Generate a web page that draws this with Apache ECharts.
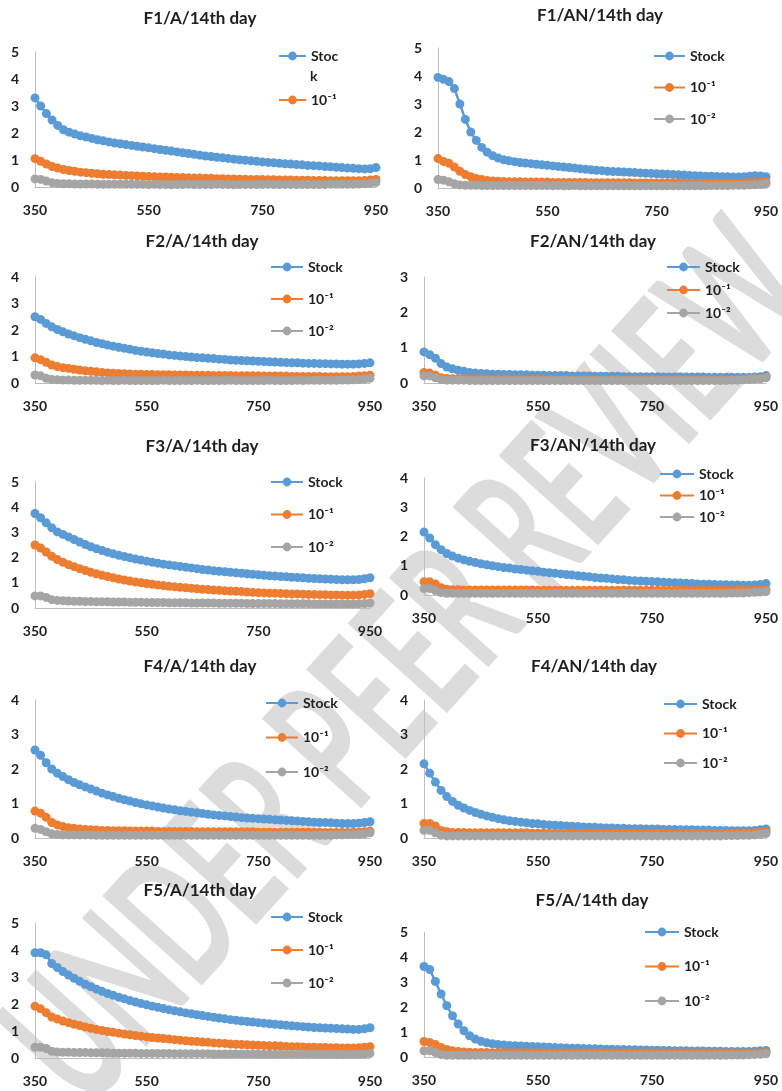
<!DOCTYPE html>
<html>
<head>
<meta charset="utf-8">
<script src="https://cdn.jsdelivr.net/npm/echarts@6/dist/echarts.min.js"></script>
<style>
html,body{margin:0;padding:0;background:#fff;}
#c{width:782px;height:1091px;}
</style>
</head>
<body>
<div id="c"></div>
<script>
const wavelengths = [350,360,370,380,390,400,410,420,430,440,450,460,470,480,490,500,510,520,530,540,550,560,570,580,590,600,610,620,630,640,650,660,670,680,690,700,710,720,730,740,750,760,770,780,790,800,810,820,830,840,850,860,870,880,890,900,910,920,930,940,950];
const xTickLabels = ['350','550','750','950'];
const seriesNames = ['Stock','10⁻¹','10⁻²'];
const panelTitles = ['F1/A/14th day','F1/AN/14th day','F2/A/14th day','F2/AN/14th day','F3/A/14th day','F3/AN/14th day','F4/A/14th day','F4/AN/14th day','F5/A/14th day','F5/A/14th day'];
const yMax = [5,5,4,3,5,4,4,4,5,5];

// F1 / A
const f1aStock = [3.30,3.00,2.72,2.48,2.28,2.12,2.03,1.96,1.90,1.85,1.80,1.75,1.71,1.67,1.63,1.60,1.57,1.54,1.51,1.48,1.45,1.42,1.39,1.36,1.33,1.30,1.27,1.24,1.21,1.18,1.15,1.13,1.10,1.08,1.06,1.03,1.01,0.99,0.97,0.95,0.93,0.91,0.90,0.88,0.86,0.85,0.83,0.82,0.80,0.79,0.78,0.76,0.75,0.73,0.72,0.70,0.69,0.68,0.67,0.68,0.72];
const f1a10m1 = [1.05,0.95,0.85,0.76,0.70,0.65,0.61,0.58,0.55,0.53,0.51,0.49,0.47,0.46,0.45,0.44,0.43,0.42,0.41,0.40,0.39,0.38,0.37,0.37,0.36,0.35,0.35,0.34,0.33,0.33,0.32,0.32,0.31,0.31,0.30,0.30,0.29,0.29,0.28,0.28,0.28,0.27,0.27,0.26,0.26,0.26,0.25,0.25,0.25,0.24,0.24,0.24,0.23,0.23,0.23,0.23,0.23,0.23,0.24,0.26,0.28];
const f1a10m2 = [0.30,0.28,0.22,0.16,0.13,0.12,0.12,0.11,0.11,0.11,0.11,0.10,0.10,0.10,0.10,0.10,0.10,0.10,0.10,0.10,0.09,0.10,0.09,0.09,0.08,0.09,0.09,0.10,0.09,0.09,0.09,0.09,0.10,0.09,0.09,0.08,0.09,0.09,0.09,0.09,0.09,0.10,0.09,0.09,0.09,0.09,0.09,0.09,0.09,0.09,0.09,0.09,0.10,0.10,0.10,0.10,0.10,0.11,0.12,0.14,0.17];
// F1 / AN
const f1anStock = [3.95,3.88,3.80,3.55,3.00,2.45,2.00,1.70,1.45,1.28,1.15,1.07,1.01,0.97,0.94,0.91,0.89,0.87,0.85,0.83,0.81,0.79,0.77,0.75,0.73,0.71,0.69,0.67,0.65,0.63,0.62,0.60,0.59,0.58,0.57,0.56,0.55,0.54,0.53,0.52,0.51,0.50,0.49,0.48,0.47,0.46,0.45,0.44,0.43,0.42,0.42,0.41,0.40,0.40,0.39,0.39,0.40,0.42,0.44,0.43,0.40];
const f1an10m1 = [1.05,0.95,0.88,0.75,0.60,0.48,0.40,0.34,0.30,0.27,0.25,0.24,0.23,0.22,0.22,0.22,0.21,0.21,0.21,0.21,0.21,0.20,0.20,0.20,0.20,0.20,0.20,0.20,0.19,0.19,0.19,0.19,0.19,0.19,0.19,0.19,0.18,0.18,0.18,0.18,0.18,0.18,0.18,0.18,0.18,0.18,0.17,0.17,0.17,0.17,0.17,0.17,0.17,0.17,0.17,0.17,0.18,0.19,0.20,0.21,0.22];
const f1an10m2 = [0.30,0.28,0.22,0.15,0.11,0.10,0.10,0.10,0.09,0.09,0.09,0.09,0.09,0.09,0.09,0.09,0.09,0.09,0.09,0.09,0.09,0.08,0.09,0.08,0.08,0.09,0.08,0.08,0.08,0.08,0.08,0.08,0.08,0.08,0.08,0.08,0.08,0.08,0.08,0.08,0.08,0.08,0.08,0.08,0.08,0.08,0.08,0.08,0.08,0.08,0.09,0.09,0.09,0.09,0.10,0.10,0.10,0.11,0.12,0.13,0.15];
// F2 / A
const f2aStock = [2.50,2.40,2.25,2.12,2.02,1.93,1.85,1.78,1.71,1.65,1.59,1.53,1.48,1.43,1.39,1.35,1.31,1.27,1.23,1.20,1.17,1.14,1.11,1.09,1.06,1.04,1.02,1.00,0.98,0.96,0.95,0.93,0.92,0.90,0.89,0.87,0.86,0.85,0.84,0.83,0.82,0.81,0.80,0.79,0.78,0.77,0.76,0.76,0.75,0.74,0.74,0.73,0.73,0.72,0.72,0.71,0.71,0.71,0.72,0.74,0.76];
const f2a10m1 = [0.95,0.88,0.78,0.68,0.62,0.58,0.55,0.52,0.49,0.46,0.44,0.42,0.40,0.38,0.37,0.36,0.35,0.34,0.33,0.33,0.32,0.32,0.31,0.31,0.31,0.30,0.30,0.30,0.29,0.29,0.29,0.29,0.28,0.28,0.28,0.28,0.27,0.27,0.27,0.27,0.27,0.26,0.26,0.26,0.26,0.26,0.25,0.25,0.25,0.25,0.25,0.25,0.24,0.24,0.24,0.24,0.24,0.25,0.26,0.27,0.29];
const f2a10m2 = [0.30,0.27,0.18,0.13,0.12,0.11,0.11,0.10,0.10,0.10,0.10,0.10,0.09,0.10,0.09,0.09,0.10,0.09,0.09,0.09,0.09,0.09,0.09,0.10,0.09,0.09,0.09,0.09,0.09,0.10,0.09,0.09,0.09,0.09,0.09,0.10,0.09,0.09,0.09,0.09,0.09,0.09,0.10,0.09,0.09,0.09,0.09,0.10,0.09,0.10,0.10,0.10,0.10,0.10,0.10,0.11,0.11,0.12,0.13,0.15,0.18];
// F2 / AN
const f2anStock = [0.88,0.80,0.70,0.55,0.45,0.40,0.36,0.33,0.30,0.28,0.27,0.26,0.25,0.25,0.24,0.24,0.23,0.23,0.23,0.22,0.22,0.22,0.21,0.21,0.21,0.21,0.20,0.20,0.20,0.20,0.19,0.19,0.19,0.19,0.19,0.18,0.18,0.18,0.18,0.18,0.18,0.18,0.17,0.17,0.17,0.17,0.17,0.17,0.17,0.17,0.16,0.16,0.16,0.16,0.16,0.16,0.16,0.16,0.17,0.18,0.21];
const f2an10m1 = [0.30,0.28,0.22,0.15,0.13,0.12,0.12,0.12,0.12,0.11,0.11,0.11,0.11,0.11,0.11,0.11,0.11,0.11,0.11,0.11,0.11,0.11,0.11,0.10,0.10,0.10,0.10,0.10,0.10,0.10,0.10,0.10,0.10,0.10,0.10,0.10,0.10,0.10,0.10,0.10,0.10,0.10,0.10,0.10,0.10,0.10,0.10,0.10,0.10,0.10,0.10,0.10,0.10,0.10,0.10,0.10,0.11,0.11,0.12,0.13,0.16];
const f2an10m2 = [0.20,0.20,0.15,0.10,0.08,0.08,0.08,0.08,0.07,0.07,0.07,0.07,0.07,0.07,0.07,0.07,0.07,0.07,0.07,0.07,0.07,0.07,0.07,0.07,0.07,0.07,0.07,0.07,0.07,0.07,0.07,0.07,0.07,0.07,0.07,0.07,0.07,0.07,0.07,0.07,0.07,0.07,0.07,0.07,0.07,0.07,0.07,0.07,0.07,0.07,0.07,0.07,0.07,0.07,0.08,0.08,0.09,0.10,0.11,0.12,0.15];
// F3 / A
const f3aStock = [3.75,3.58,3.38,3.18,3.02,2.92,2.82,2.72,2.62,2.52,2.43,2.35,2.28,2.21,2.15,2.09,2.04,1.99,1.94,1.90,1.86,1.82,1.78,1.74,1.71,1.68,1.65,1.62,1.59,1.56,1.53,1.51,1.48,1.46,1.44,1.42,1.40,1.38,1.36,1.34,1.32,1.30,1.28,1.27,1.25,1.24,1.22,1.21,1.20,1.18,1.17,1.16,1.15,1.14,1.13,1.12,1.12,1.12,1.13,1.16,1.20];
const f3a10m1 = [2.50,2.38,2.22,2.05,1.92,1.82,1.72,1.64,1.56,1.49,1.42,1.36,1.30,1.25,1.20,1.15,1.11,1.07,1.03,1.00,0.97,0.94,0.91,0.89,0.86,0.84,0.82,0.80,0.78,0.76,0.74,0.73,0.71,0.70,0.68,0.67,0.66,0.65,0.63,0.62,0.61,0.60,0.59,0.59,0.58,0.57,0.56,0.56,0.55,0.54,0.54,0.53,0.53,0.52,0.52,0.51,0.51,0.51,0.52,0.54,0.57];
const f3a10m2 = [0.48,0.48,0.42,0.33,0.30,0.29,0.28,0.27,0.27,0.26,0.26,0.25,0.25,0.25,0.24,0.24,0.24,0.23,0.23,0.23,0.22,0.22,0.22,0.22,0.21,0.21,0.21,0.21,0.20,0.20,0.20,0.20,0.20,0.19,0.19,0.19,0.19,0.19,0.18,0.18,0.18,0.18,0.18,0.18,0.17,0.17,0.17,0.17,0.17,0.17,0.16,0.16,0.16,0.16,0.16,0.16,0.16,0.16,0.17,0.18,0.20];
// F3 / AN
const f3anStock = [2.15,1.95,1.72,1.55,1.42,1.33,1.26,1.20,1.15,1.11,1.07,1.03,1.00,0.97,0.94,0.92,0.89,0.87,0.85,0.83,0.81,0.78,0.76,0.74,0.72,0.70,0.68,0.66,0.64,0.62,0.60,0.58,0.57,0.55,0.53,0.52,0.50,0.49,0.48,0.47,0.46,0.45,0.44,0.43,0.42,0.41,0.40,0.39,0.38,0.37,0.37,0.36,0.35,0.35,0.34,0.34,0.33,0.33,0.34,0.36,0.39];
const f3an10m1 = [0.45,0.45,0.38,0.25,0.20,0.18,0.18,0.17,0.17,0.17,0.17,0.17,0.17,0.17,0.17,0.17,0.17,0.17,0.17,0.17,0.16,0.16,0.16,0.16,0.16,0.16,0.16,0.16,0.16,0.16,0.16,0.16,0.16,0.16,0.16,0.16,0.16,0.16,0.16,0.16,0.16,0.16,0.16,0.16,0.16,0.16,0.16,0.16,0.16,0.16,0.16,0.16,0.16,0.16,0.16,0.16,0.16,0.16,0.16,0.17,0.18];
const f3an10m2 = [0.22,0.22,0.15,0.08,0.06,0.06,0.06,0.06,0.06,0.06,0.06,0.06,0.06,0.06,0.06,0.06,0.06,0.06,0.06,0.06,0.06,0.06,0.06,0.06,0.06,0.06,0.06,0.06,0.06,0.06,0.06,0.06,0.06,0.06,0.06,0.06,0.06,0.06,0.06,0.06,0.06,0.06,0.06,0.06,0.06,0.06,0.06,0.06,0.06,0.06,0.06,0.06,0.06,0.06,0.07,0.07,0.07,0.08,0.09,0.10,0.12];
// F4 / A
const f4aStock = [2.55,2.40,2.18,2.00,1.88,1.78,1.69,1.61,1.54,1.48,1.42,1.36,1.30,1.25,1.20,1.15,1.11,1.07,1.03,0.99,0.96,0.93,0.90,0.87,0.84,0.82,0.79,0.77,0.75,0.73,0.71,0.69,0.67,0.65,0.64,0.62,0.61,0.59,0.58,0.57,0.56,0.55,0.54,0.53,0.52,0.51,0.50,0.49,0.48,0.47,0.46,0.45,0.45,0.44,0.43,0.42,0.42,0.42,0.43,0.45,0.47];
const f4a10m1 = [0.78,0.72,0.60,0.45,0.38,0.33,0.30,0.28,0.26,0.25,0.24,0.23,0.22,0.22,0.21,0.21,0.21,0.20,0.20,0.20,0.20,0.20,0.19,0.19,0.19,0.19,0.19,0.19,0.19,0.18,0.18,0.18,0.18,0.18,0.18,0.18,0.18,0.18,0.18,0.18,0.17,0.17,0.17,0.17,0.17,0.17,0.17,0.17,0.17,0.17,0.16,0.16,0.16,0.16,0.16,0.16,0.16,0.17,0.17,0.18,0.20];
const f4a10m2 = [0.28,0.25,0.18,0.12,0.10,0.09,0.09,0.09,0.09,0.09,0.09,0.08,0.08,0.08,0.08,0.08,0.08,0.08,0.08,0.08,0.08,0.08,0.08,0.08,0.08,0.08,0.08,0.08,0.08,0.08,0.08,0.08,0.08,0.08,0.08,0.08,0.08,0.08,0.08,0.08,0.08,0.08,0.08,0.08,0.08,0.08,0.08,0.08,0.08,0.08,0.08,0.08,0.08,0.08,0.09,0.09,0.10,0.10,0.11,0.12,0.15];
// F4 / AN
const f4anStock = [2.15,1.88,1.62,1.38,1.20,1.06,0.95,0.87,0.80,0.74,0.69,0.64,0.60,0.56,0.53,0.50,0.48,0.46,0.44,0.42,0.41,0.39,0.38,0.37,0.36,0.35,0.34,0.33,0.32,0.31,0.31,0.30,0.29,0.29,0.28,0.28,0.27,0.27,0.27,0.26,0.26,0.26,0.25,0.25,0.25,0.24,0.24,0.24,0.23,0.23,0.23,0.22,0.22,0.22,0.21,0.21,0.21,0.21,0.22,0.24,0.26];
const f4an10m1 = [0.42,0.42,0.35,0.22,0.18,0.16,0.16,0.16,0.15,0.15,0.15,0.15,0.15,0.15,0.15,0.15,0.15,0.15,0.15,0.14,0.14,0.14,0.14,0.14,0.14,0.14,0.14,0.14,0.14,0.14,0.14,0.14,0.14,0.14,0.14,0.14,0.14,0.14,0.14,0.14,0.14,0.14,0.14,0.14,0.14,0.14,0.14,0.14,0.14,0.14,0.14,0.14,0.14,0.14,0.14,0.14,0.14,0.15,0.15,0.16,0.18];
const f4an10m2 = [0.22,0.22,0.15,0.08,0.06,0.06,0.06,0.06,0.06,0.06,0.06,0.06,0.06,0.06,0.06,0.06,0.06,0.06,0.06,0.06,0.06,0.06,0.06,0.06,0.06,0.06,0.06,0.06,0.06,0.06,0.06,0.06,0.06,0.06,0.06,0.06,0.06,0.06,0.06,0.06,0.06,0.06,0.06,0.06,0.06,0.06,0.06,0.06,0.06,0.06,0.06,0.06,0.06,0.07,0.07,0.07,0.08,0.08,0.09,0.11,0.13];
// F5 / A (left)
const f5aStock = [3.90,3.90,3.82,3.50,3.35,3.20,3.07,2.95,2.84,2.73,2.64,2.55,2.47,2.39,2.32,2.25,2.19,2.13,2.07,2.02,1.97,1.92,1.88,1.83,1.79,1.75,1.71,1.67,1.64,1.60,1.57,1.54,1.51,1.48,1.45,1.42,1.40,1.37,1.35,1.33,1.31,1.29,1.27,1.25,1.23,1.21,1.19,1.18,1.16,1.15,1.13,1.12,1.11,1.10,1.09,1.08,1.07,1.06,1.06,1.08,1.12];
const f5a10m1 = [1.92,1.82,1.68,1.52,1.44,1.37,1.31,1.25,1.20,1.15,1.10,1.06,1.02,0.98,0.95,0.92,0.89,0.86,0.83,0.81,0.78,0.76,0.74,0.72,0.70,0.68,0.66,0.64,0.62,0.61,0.59,0.58,0.56,0.55,0.54,0.52,0.51,0.50,0.49,0.48,0.47,0.46,0.45,0.45,0.44,0.43,0.42,0.42,0.41,0.40,0.40,0.39,0.39,0.38,0.38,0.37,0.37,0.37,0.38,0.40,0.42];
const f5a10m2 = [0.40,0.40,0.35,0.25,0.22,0.21,0.21,0.20,0.20,0.20,0.19,0.19,0.19,0.19,0.18,0.18,0.18,0.18,0.18,0.17,0.17,0.17,0.17,0.17,0.17,0.16,0.16,0.16,0.16,0.16,0.16,0.16,0.15,0.15,0.15,0.15,0.15,0.15,0.15,0.15,0.15,0.14,0.14,0.14,0.14,0.14,0.14,0.14,0.14,0.14,0.14,0.14,0.13,0.13,0.13,0.13,0.13,0.13,0.14,0.15,0.17];
// F5 / A (right)
const f5bStock = [3.62,3.50,3.02,2.52,2.05,1.65,1.32,1.05,0.85,0.72,0.63,0.57,0.53,0.50,0.48,0.46,0.45,0.44,0.43,0.42,0.41,0.40,0.39,0.38,0.37,0.36,0.35,0.35,0.34,0.33,0.33,0.32,0.31,0.31,0.30,0.30,0.29,0.29,0.28,0.28,0.27,0.27,0.26,0.26,0.25,0.25,0.25,0.24,0.24,0.24,0.23,0.23,0.23,0.22,0.22,0.22,0.22,0.22,0.23,0.25,0.26];
const f5b10m1 = [0.62,0.58,0.50,0.38,0.30,0.25,0.22,0.20,0.19,0.18,0.18,0.18,0.17,0.17,0.17,0.17,0.17,0.17,0.17,0.17,0.17,0.16,0.16,0.16,0.16,0.16,0.16,0.16,0.16,0.16,0.16,0.16,0.16,0.16,0.16,0.16,0.16,0.16,0.16,0.16,0.16,0.16,0.16,0.16,0.16,0.16,0.16,0.16,0.16,0.16,0.16,0.16,0.16,0.16,0.16,0.16,0.16,0.16,0.16,0.17,0.18];
const f5b10m2 = [0.25,0.25,0.18,0.10,0.07,0.07,0.07,0.07,0.07,0.07,0.07,0.07,0.07,0.07,0.07,0.07,0.07,0.07,0.07,0.07,0.07,0.07,0.07,0.07,0.07,0.07,0.07,0.07,0.07,0.07,0.07,0.07,0.07,0.07,0.07,0.07,0.07,0.07,0.07,0.07,0.07,0.07,0.07,0.07,0.07,0.07,0.07,0.07,0.07,0.07,0.07,0.07,0.07,0.07,0.08,0.08,0.08,0.09,0.10,0.11,0.13];

const panelData = [
  [f1aStock,f1a10m1,f1a10m2],[f1anStock,f1an10m1,f1an10m2],
  [f2aStock,f2a10m1,f2a10m2],[f2anStock,f2an10m1,f2an10m2],
  [f3aStock,f3a10m1,f3a10m2],[f3anStock,f3an10m1,f3an10m2],
  [f4aStock,f4a10m1,f4a10m2],[f4anStock,f4an10m1,f4an10m2],
  [f5aStock,f5a10m1,f5a10m2],[f5bStock,f5b10m1,f5b10m2]
];

// layout (pixels)
const layout = [
  {gx:35, gw:341, gy:52,  gh:135, tx:200, ty:20,  lx:278, ly:56,  lsp:44,  lw:27, names:['Stock','10⁻¹']},
  {gx:438,gw:328, gy:48,  gh:140, tx:600, ty:17,  lx:653, ly:56,  lsp:31.5,lw:31},
  {gx:35, gw:335, gy:277, gh:106, tx:202, ty:243, lx:270, ly:267, lsp:32,  lw:32},
  {gx:424,gw:342, gy:277, gh:106, tx:593, ty:243, lx:666, ly:267, lsp:23,  lw:33},
  {gx:35, gw:335, gy:482, gh:126, tx:202, ty:448, lx:270, ly:482, lsp:32.5,lw:32},
  {gx:424,gw:342, gy:478, gh:117, tx:593, ty:447, lx:659, ly:474, lsp:21.5,lw:34},
  {gx:35, gw:335, gy:700, gh:138, tx:200, ty:668, lx:265, ly:703, lsp:34.5,lw:32},
  {gx:424,gw:342, gy:700, gh:138, tx:594, ty:668, lx:663, ly:704, lsp:29.5,lw:33},
  {gx:35, gw:335, gy:923, gh:135, tx:200, ty:892, lx:270, ly:917, lsp:33,  lw:32},
  {gx:424,gw:342, gy:932, gh:125, tx:592, ty:902, lx:644, ly:932, lsp:34.5,lw:34}
];

const colors = ['#5B9BD5','#ED7D31','#A5A5A5'];
const FONT = 'Lato, "Open Sans", sans-serif';
const TXT = '#1f1f1f';
const ITEM_H = 16;

const grids=[], xAxes=[], yAxes=[], series=[], legends=[], titles=[];
layout.forEach((L,i)=>{
  grids.push({left:L.gx, top:L.gy, width:L.gw, height:L.gh, containLabel:false});
  xAxes.push({type:'category', gridIndex:i, data:wavelengths, boundaryGap:false,
    axisLine:{show:true, lineStyle:{color:'#bfbfbf', width:1}}, axisTick:{show:false},
    axisLabel:{interval:19, margin:16, fontFamily:FONT, fontWeight:'bold', fontSize:14, color:TXT,
      formatter:v=> xTickLabels.indexOf(String(v))>=0 ? String(v) : ''},
    splitLine:{show:false}});
  yAxes.push({type:'value', gridIndex:i, min:0, max:yMax[i], interval:1,
    axisLine:{show:true, lineStyle:{color:'#bfbfbf', width:1}}, axisTick:{show:false},
    axisLabel:{margin:16, fontFamily:FONT, fontWeight:'bold', fontSize:14, color:TXT},
    splitLine:{show:false}});
  panelData[i].forEach((arr,k)=>{
    series.push({type:'line', name:seriesNames[k], xAxisIndex:i, yAxisIndex:i, data:arr,
      symbol:'circle', symbolSize:9, showSymbol:true, showAllSymbol:true, animation:false,
      itemStyle:{color:colors[k]}, lineStyle:{color:colors[k], width:2.5}, z:2+k});
  });
  titles.push({text:panelTitles[i], left:L.tx, top:L.ty-10, textAlign:'center', padding:0,
    textStyle:{fontFamily:FONT, fontWeight:'bold', fontSize:17, color:TXT}});
  legends.push({data:L.names||seriesNames, orient:'vertical', left:L.lx, top:L.ly-ITEM_H/2, padding:0,
    itemWidth:L.lw, itemHeight:11, itemGap:L.lsp-ITEM_H,
    formatter: (i===0) ? (n=> n==='Stock' ? 'Stoc' : n) : undefined,
    textStyle:{fontFamily:FONT, fontWeight:'bold', fontSize:14, color:TXT, lineHeight:ITEM_H}});
});

const chart = echarts.init(document.getElementById('c'), null, {renderer:'canvas'});
chart.setOption({
  animation:false,
  backgroundColor:'#fff',
  title:titles,
  grid:grids, xAxis:xAxes, yAxis:yAxes, legend:legends, series:series,
  graphic:[
    {type:'text', left:310, top:69, z:10, style:{text:'k', fontFamily:FONT, fontWeight:'bold', fontSize:14, fill:TXT}},
    {type:'text', x:410, y:665, rotation:48*Math.PI/180, scaleX:0.58, scaleY:1, z:-10, silent:true,
     style:{text:'UNDER PEER REVIEW', fontFamily:FONT, fontWeight:'bold', fontSize:185,
       fill:'#dcdcdc', align:'center', verticalAlign:'middle'}}
  ]
});
</script>
</body>
</html>
